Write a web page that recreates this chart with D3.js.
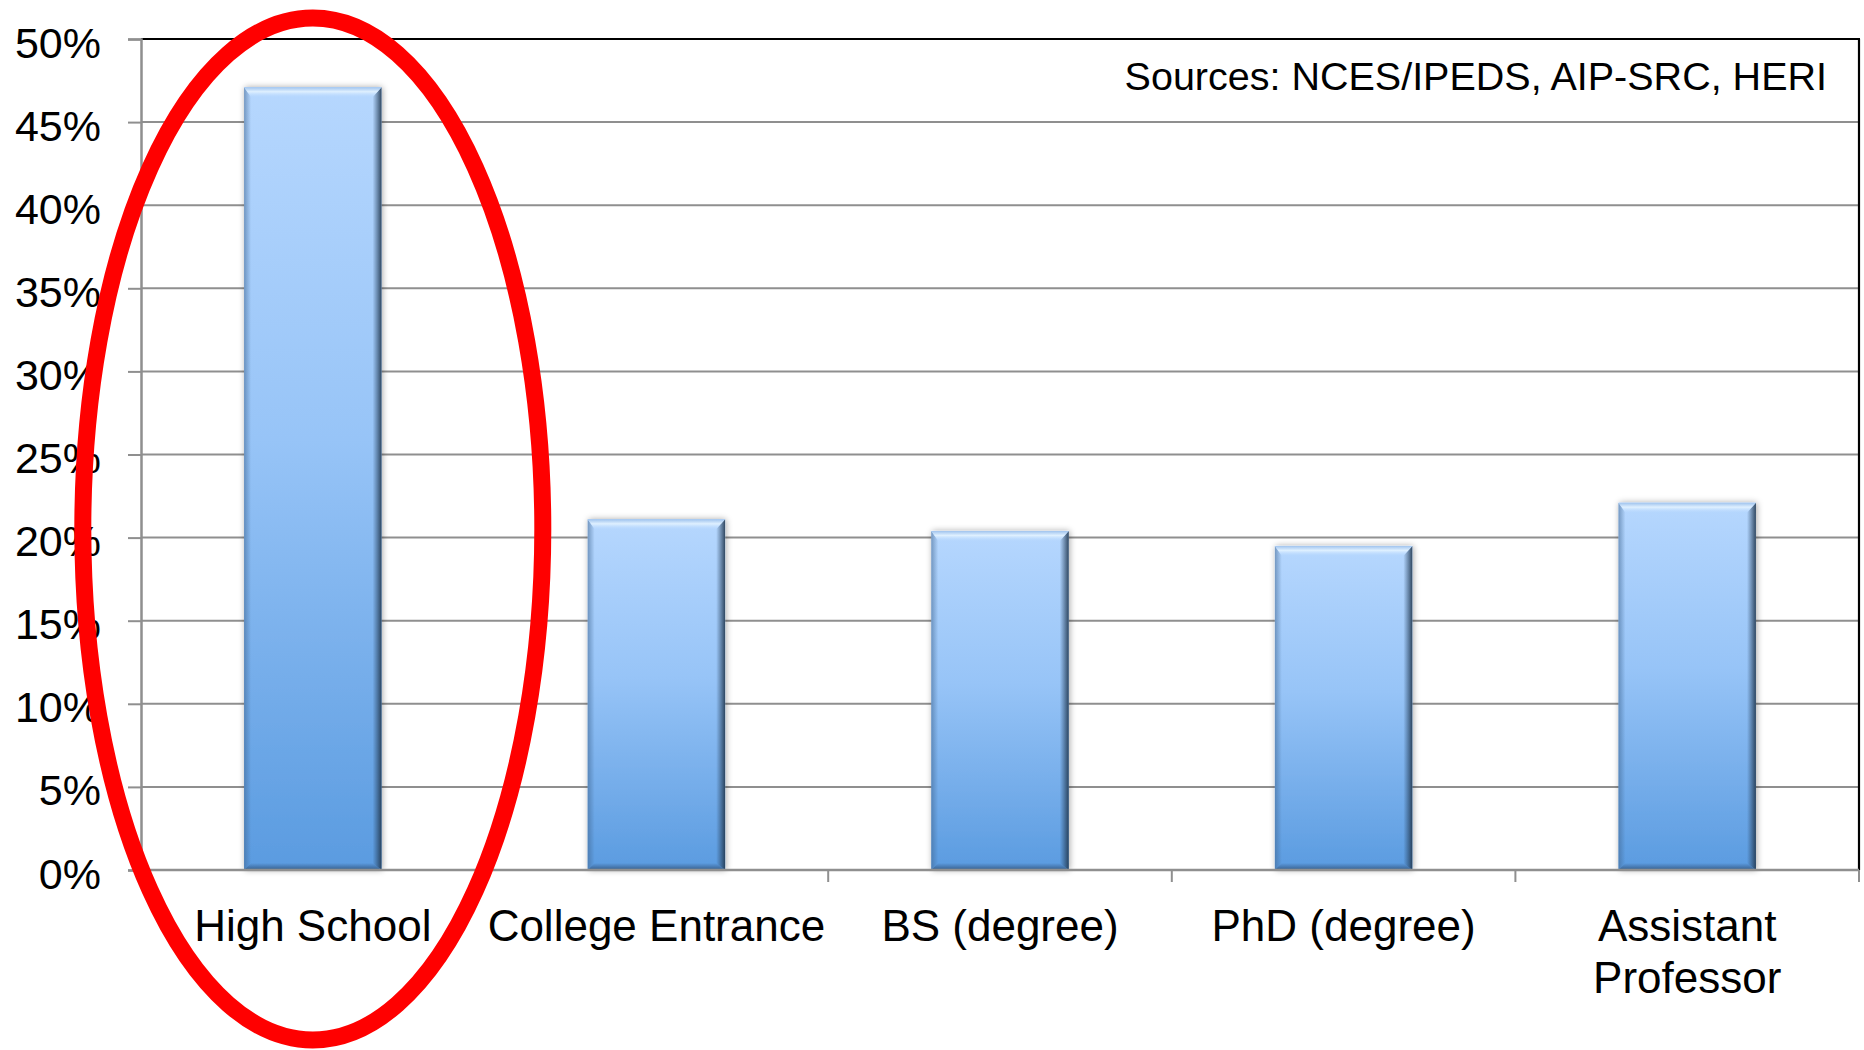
<!DOCTYPE html>
<html>
<head>
<meta charset="utf-8">
<script src="https://cdn.jsdelivr.net/npm/d3@7"></script>
<style>
  html, body { margin: 0; padding: 0; background: #ffffff; }
  svg { display: block; }
  text { font-family: "Liberation Sans", Arial, Helvetica, sans-serif; fill: #000; }
</style>
</head>
<body>
<svg id="chart" width="1864" height="1050"></svg>
<script>
// ---- data ----
const categories = ["High School", "College Entrance", "BS (degree)", "PhD (degree)", "Assistant Professor"];
const values = [0.471, 0.211, 0.204, 0.195, 0.221];
const yTicks = [0, 0.05, 0.10, 0.15, 0.20, 0.25, 0.30, 0.35, 0.40, 0.45, 0.50];
const sourceNote = "Sources: NCES/IPEDS, AIP-SRC, HERI";
const highlighted = "High School";

// ---- layout ----
const W = 1864, H = 1050;
const plot = { left: 141, right: 1859, top: 39, bottom: 870 };

const svg = d3.select("#chart");
const defs = svg.append("defs");

const x = d3.scaleBand().domain(categories).range([plot.left, plot.right])
  .paddingInner(0.6).paddingOuter(0.3);
const y = d3.scaleLinear().domain([0, 0.5]).range([plot.bottom, plot.top]);

// gradients
const g1 = defs.append("linearGradient").attr("id", "barGrad").attr("x1", 0).attr("y1", 0).attr("x2", 0).attr("y2", 1);
g1.append("stop").attr("offset", "0%").attr("stop-color", "#b6d7fe");
g1.append("stop").attr("offset", "45%").attr("stop-color", "#97c4f7");
g1.append("stop").attr("offset", "100%").attr("stop-color", "#5a9be0");

const gTop = defs.append("linearGradient").attr("id", "topBev").attr("x1", 0).attr("y1", 0).attr("x2", 0).attr("y2", 1);
gTop.append("stop").attr("offset", "0%").attr("stop-color", "#9fc3ee");
gTop.append("stop").attr("offset", "45%").attr("stop-color", "#dff0ff");
gTop.append("stop").attr("offset", "100%").attr("stop-color", "#b6d7fe").attr("stop-opacity", 0.2);

const gRight = defs.append("linearGradient").attr("id", "rightBev").attr("x1", 0).attr("y1", 0).attr("x2", 1).attr("y2", 0);
gRight.append("stop").attr("offset", "0%").attr("stop-color", "#2a4562").attr("stop-opacity", 0);
gRight.append("stop").attr("offset", "100%").attr("stop-color", "#22384f").attr("stop-opacity", 0.9);

const gLeft = defs.append("linearGradient").attr("id", "leftBev").attr("x1", 0).attr("y1", 0).attr("x2", 1).attr("y2", 0);
gLeft.append("stop").attr("offset", "0%").attr("stop-color", "#3f6590").attr("stop-opacity", 0.55);
gLeft.append("stop").attr("offset", "100%").attr("stop-color", "#3f6590").attr("stop-opacity", 0);

const gBottom = defs.append("linearGradient").attr("id", "botBev").attr("x1", 0).attr("y1", 0).attr("x2", 0).attr("y2", 1);
gBottom.append("stop").attr("offset", "0%").attr("stop-color", "#2a4a70").attr("stop-opacity", 0);
gBottom.append("stop").attr("offset", "100%").attr("stop-color", "#2a4a70").attr("stop-opacity", 0.75);

const shadow = defs.append("filter").attr("id", "shadow").attr("x", "-20%").attr("y", "-20%").attr("width", "140%").attr("height", "140%");
shadow.append("feDropShadow").attr("dx", 1).attr("dy", 0).attr("stdDeviation", 3)
  .attr("flood-color", "#000").attr("flood-opacity", 0.35);

// ---- gridlines ----
svg.append("g")
  .selectAll("line.grid")
  .data(yTicks.filter(d => d > 0 && d < 0.5))
  .join("line")
  .attr("x1", plot.left).attr("x2", plot.right)
  .attr("y1", d => y(d)).attr("y2", d => y(d))
  .attr("stroke", "#8f8f8f").attr("stroke-width", 2);

// top & right border (black)
svg.append("line").attr("x1", plot.left).attr("x2", plot.right + 1)
  .attr("y1", y(0.5)).attr("y2", y(0.5)).attr("stroke", "#000").attr("stroke-width", 2.2);
svg.append("line").attr("x1", plot.right).attr("x2", plot.right)
  .attr("y1", y(0.5)).attr("y2", y(0)).attr("stroke", "#000").attr("stroke-width", 2.2);

// ---- y axis ----
const yAxis = svg.append("g").attr("transform", `translate(${plot.left},0)`)
  .call(d3.axisLeft(y).tickValues(yTicks).tickFormat(d3.format(".0%")).tickSize(13).tickPadding(27));
yAxis.select(".domain").attr("stroke", "#8f8f8f").attr("stroke-width", 2.5);
yAxis.selectAll(".tick line").attr("stroke", "#8f8f8f").attr("stroke-width", 2);
yAxis.selectAll(".tick text")
  .attr("font-size", 43).attr("font-family", "Liberation Sans, Arial, sans-serif")
  .attr("fill", "#000").attr("dy", 18);

// ---- bars ----
const bw = x.bandwidth();
const b = 10;
const bars = svg.append("g").selectAll("g.bar")
  .data(categories.map((c, i) => ({ c, v: values[i] })))
  .join("g").attr("class", "bar");

bars.append("rect")
  .attr("x", d => x(d.c)).attr("y", d => y(d.v))
  .attr("width", bw).attr("height", d => y(0) - y(d.v))
  .attr("fill", "url(#barGrad)").attr("filter", "url(#shadow)");

bars.append("polygon").attr("fill", "url(#leftBev)")
  .attr("points", d => { const x0 = x(d.c), y0 = y(d.v), y1 = y(0);
    return [[x0, y0], [x0 + 7, y0 + b], [x0 + 7, y1 - 7], [x0, y1]].join(" "); });
bars.append("polygon").attr("fill", "url(#rightBev)")
  .attr("points", d => { const x0 = x(d.c), y0 = y(d.v), y1 = y(0), x1 = x0 + bw;
    return [[x1, y0], [x1 - 9, y0 + b], [x1 - 9, y1 - 7], [x1, y1]].join(" "); });
bars.append("polygon").attr("fill", "url(#botBev)")
  .attr("points", d => { const x0 = x(d.c), y1 = y(0), x1 = x0 + bw;
    return [[x0, y1], [x0 + 7, y1 - 7], [x1 - 9, y1 - 7], [x1, y1]].join(" "); });
bars.append("polygon").attr("fill", "url(#topBev)")
  .attr("points", d => { const x0 = x(d.c), y0 = y(d.v), x1 = x0 + bw;
    return [[x0, y0], [x1, y0], [x1 - 9, y0 + b], [x0 + 7, y0 + b]].join(" "); });

// ---- x axis ----
svg.append("line").attr("x1", plot.left).attr("x2", plot.right)
  .attr("y1", y(0)).attr("y2", y(0)).attr("stroke", "#8f8f8f").attr("stroke-width", 2.5);
const step = x.step();
svg.append("g").selectAll("line.xt")
  .data(categories.slice(1).concat(["__end"]))
  .join("line")
  .attr("x1", (d, i) => (i < categories.length - 1 ? x(d) - step * x.paddingInner() / 2 : plot.right))
  .attr("x2", (d, i) => (i < categories.length - 1 ? x(d) - step * x.paddingInner() / 2 : plot.right))
  .attr("y1", y(0)).attr("y2", y(0) + 12)
  .attr("stroke", "#8f8f8f").attr("stroke-width", 2);

// category labels with wrapping
const labelG = svg.append("g");
categories.forEach(c => {
  const cx = x(c) + bw / 2;
  const t = labelG.append("text").attr("x", cx).attr("y", 941)
    .attr("text-anchor", "middle").attr("font-size", 44).text(c);
  if (t.node().getComputedTextLength() > step - 4) {
    const words = c.split(" ");
    t.text(null);
    words.forEach((w, i) => {
      t.append("tspan").attr("x", cx).attr("dy", i === 0 ? 0 : 52).text(w);
    });
  }
});

// source note
svg.append("text").attr("x", 1827).attr("y", 90).attr("text-anchor", "end")
  .attr("font-size", 39.5).text(sourceNote);

// highlight ellipse around the first category
svg.append("ellipse")
  .attr("cx", x(highlighted) + bw / 2).attr("cy", 529)
  .attr("rx", 230).attr("ry", 511)
  .attr("fill", "none").attr("stroke", "#ff0000").attr("stroke-width", 17);
</script>
</body>
</html>
